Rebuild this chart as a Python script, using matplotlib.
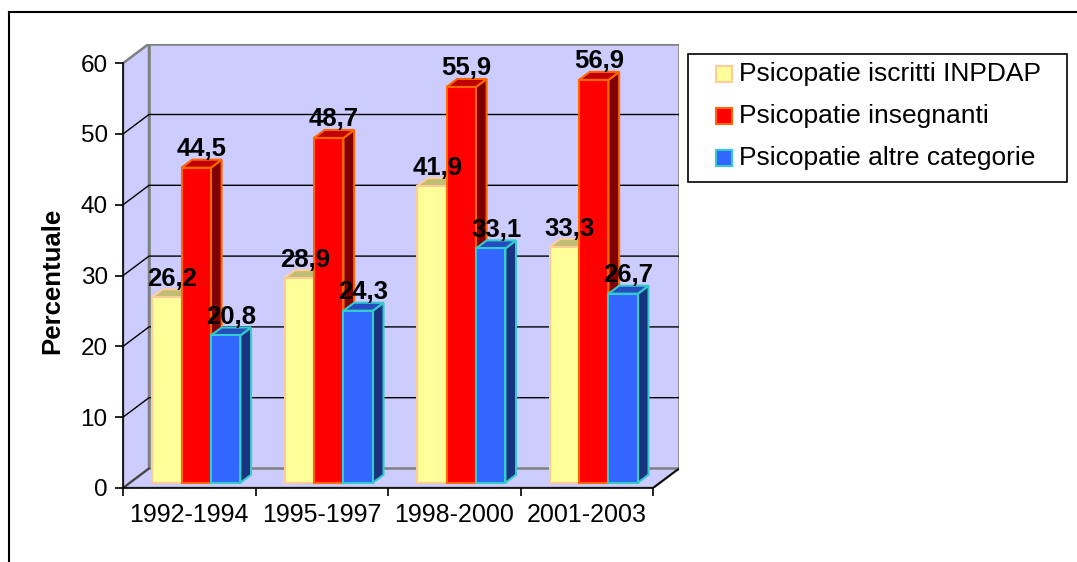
import matplotlib.pyplot as plt
from matplotlib.patches import Polygon, Rectangle
from matplotlib.lines import Line2D

plt.rcParams['font.family'] = ['Liberation Sans', 'DejaVu Sans']

# dati
periodi = ['1992-1994', '1995-1997', '1998-2000', '2001-2003']
serie_nomi = ['Psicopatie iscritti INPDAP', 'Psicopatie insegnanti', 'Psicopatie altre categorie']
iscritti = [26.2, 28.9, 41.9, 33.3]
insegnanti = [44.5, 48.7, 55.9, 56.9]
altre = [20.8, 24.3, 33.1, 26.7]
serie = [iscritti, insegnanti, altre]

# colori: fronte, bordo, sopra, lato
colori = [('#FFFF99', '#FFCC99', '#BFBF73', '#80804D'),
          ('#FF0000', '#FF6600', '#C00000', '#800000'),
          ('#3366FF', '#33CCCC', '#264CBF', '#1A3380')]
parete = '#CCCCFF'
grigio = '#808080'

W, H = 1077, 562
fig = plt.figure(figsize=(W / 100, H / 100), dpi=100, facecolor='white')

# geometria "3D" (pixel)
x0px, y0px = 123, 488
ppx, ppy = 132.5, 7.08
DX, DY = 26 / ppx, 19.5 / ppy
xmax, ymax = 4 + DX, 60 + DY
ax = fig.add_axes([x0px / W, (H - y0px) / H, xmax * ppx / W, ymax * ppy / H])
ax.set_xlim(0, xmax)
ax.set_ylim(0, ymax)
ax.patch.set_visible(False)
for s in ['top', 'right']:
    ax.spines[s].set_visible(False)
ax.spines['left'].set_bounds(0, 60)
ax.spines['bottom'].set_bounds(0, 4)
ax.spines['left'].set_linewidth(1.2)
ax.spines['bottom'].set_linewidth(1.2)

# pareti
ax.add_patch(Polygon([(DX, DY), (4 + DX, DY), (4 + DX, 60 + DY), (DX, 60 + DY)],
                     closed=True, facecolor=parete, edgecolor=grigio, lw=1.8, zorder=0))
ax.add_patch(Polygon([(0, 0), (DX, DY), (DX, 60 + DY), (0, 60)],
                     closed=True, facecolor=parete, edgecolor=grigio, lw=1.8, zorder=0))
ax.add_patch(Polygon([(0, 0), (4, 0), (4 + DX, DY), (DX, DY)],
                     closed=True, facecolor=parete, edgecolor=grigio, lw=1.8, zorder=0))
ax.plot([4, 4 + DX], [0, DY], color='black', lw=1.2, zorder=1)
ax.plot([0, DX], [0, DY], color='#404040', lw=1.2, zorder=1)
for v in range(10, 60, 10):
    ax.plot([0, DX, 4 + DX], [v, v + DY, v + DY], color='black', lw=1.0, zorder=1)

# barre
w, d0, dd = 0.222, 0.27, 0.41
for i in range(len(periodi)):
    for j, vals in enumerate(serie):
        v = vals[i]
        fr, ed, top, side = colori[j]
        xl = i + 0.5 - 1.5 * w + j * w + d0 * DX
        xr = xl + w
        yb = d0 * DY
        yt = v + d0 * DY
        ox, oy = dd * DX, dd * DY
        z = 2 + j * 0.1
        ax.add_patch(Polygon([(xr, yb), (xr + ox, yb + oy), (xr + ox, yt + oy), (xr, yt)],
                             closed=True, facecolor=side, edgecolor=ed, lw=1.5, zorder=z))
        ax.add_patch(Polygon([(xl, yt), (xr, yt), (xr + ox, yt + oy), (xl + ox, yt + oy)],
                             closed=True, facecolor=top, edgecolor=ed, lw=1.5, zorder=z))
        ax.add_patch(Rectangle((xl, yb), w, v, facecolor=fr, edgecolor=ed, lw=1.5, zorder=z + 0.01))
        ax.annotate(f'{v:.1f}'.replace('.', ','), ((xl + xr) / 2 + ox / 2, yt + oy),
                    xytext=(0, 2.5), textcoords='offset points', ha='center', va='baseline',
                    fontsize=18.5, fontweight='bold', zorder=10)

# assi
ax.set_yticks(range(0, 61, 10))
ax.set_xticks(range(0, 5))
ax.set_xticklabels([])
ax.set_xticks([i + 0.5 for i in range(4)], minor=True)
ax.set_xticklabels(periodi, minor=True)
ax.tick_params(axis='both', which='major', length=6, width=1.2, labelsize=17.5, pad=5, direction='out')
ax.tick_params(axis='x', which='minor', length=0, labelsize=18, pad=11)
fig.text(52 / W, 1 - 281 / H, 'Percentuale', rotation=90, ha='center', va='center',
         fontsize=18.5, fontweight='bold')

# legenda
def fp(x, y):
    return (x / W, 1 - y / H)

lx0, ly0, lx1, ly1 = 688, 54, 1067, 182
fig.add_artist(Rectangle(fp(lx0, ly1), (lx1 - lx0) / W, (ly1 - ly0) / H, transform=fig.transFigure,
                         facecolor='white', edgecolor='black', lw=1.2))
for k, nome in enumerate(serie_nomi):
    yc = 74 + k * 42
    fr, ed, _, _ = colori[k]
    fig.add_artist(Rectangle(fp(716, yc + 8), 16 / W, 16 / H, transform=fig.transFigure,
                             facecolor=fr, edgecolor=ed, lw=1.5))
    fig.text(*fp(739, yc), nome, ha='left', va='center', fontsize=19)

# cornice
fig.add_artist(Line2D([9 / W, 1], [1 - 12 / H, 1 - 12 / H], transform=fig.transFigure, color='black', lw=1.5))
fig.add_artist(Line2D([9 / W, 9 / W], [0, 1 - 12 / H], transform=fig.transFigure, color='black', lw=1.5))

fig.savefig('out.png', dpi=100)
